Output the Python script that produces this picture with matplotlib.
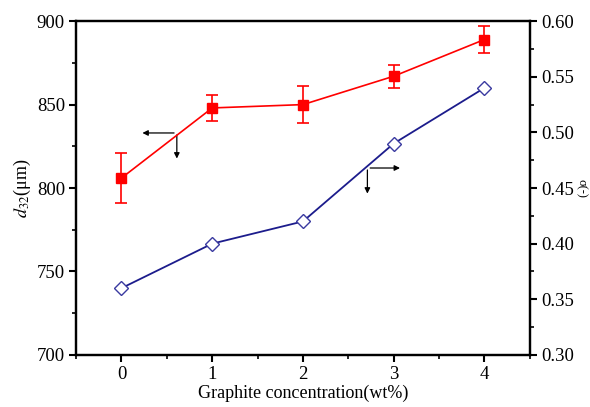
import matplotlib.pyplot as plt
import numpy as np
from matplotlib.ticker import MultipleLocator

plt.rcParams['font.family'] = ['Liberation Serif', 'DejaVu Serif']
plt.rcParams['mathtext.fontset'] = 'stix'

# graphite concentration (wt%)
conc = np.array([0, 1, 2, 3, 4])
# Sauter mean diameter d32 (um) with error bars
d32 = np.array([806, 848, 850, 867, 889])
d32_err = np.array([15, 8, 11, 7, 8])
# span sigma (-)
sigma = np.array([0.36, 0.40, 0.42, 0.49, 0.54])

fig = plt.figure(figsize=(5.9, 4.07), dpi=100)
ax = fig.add_axes([0.129, 0.128, 0.769, 0.82])
ax2 = ax.twinx()

ax.errorbar(conc, d32, yerr=d32_err, color="#ff0000", marker="s", ms=7,
            lw=1.2, capsize=4, elinewidth=1.2, capthick=1.2, zorder=3)
ax2.plot(conc, sigma, color="#1c1c8c", marker="D", ms=7.5, mfc="white",
         mec="#3a3aa0", mew=1.0, lw=1.3)

ax.set_xlim(-0.5, 4.5)
ax.set_ylim(700, 900)
ax2.set_ylim(0.30, 0.60)
ax.set_xticks(conc)
ax.xaxis.set_minor_locator(MultipleLocator(0.5))
ax.yaxis.set_major_locator(MultipleLocator(50))
ax.yaxis.set_minor_locator(MultipleLocator(25))
ax2.yaxis.set_major_locator(MultipleLocator(0.05))
ax2.yaxis.set_minor_locator(MultipleLocator(0.025))
ax2.yaxis.set_major_formatter(plt.FormatStrFormatter('%.2f'))

for a in (ax, ax2):
    for s in a.spines.values():
        s.set_linewidth(1.6)
    a.tick_params(which='major', direction='out', length=5, width=1.5,
                  labelsize=13.5, pad=3)
    a.tick_params(which='minor', direction='out', length=3, width=1.2)

ax.set_xlabel("Graphite concentration(wt%)", fontsize=13, labelpad=1)
ax.set_ylabel(r"$d_{32}$(μm)", fontsize=13, labelpad=3)
ax2.set_ylabel("σ(-)", fontsize=9, rotation=270, labelpad=10)

# direction arrows pointing to the relevant axis
arrow = dict(arrowstyle="-|>", color="black", lw=0.9, mutation_scale=8)
ax.annotate("", xy=(0.2, 833), xytext=(0.61, 833), arrowprops=arrow)
ax.annotate("", xy=(0.61, 816), xytext=(0.61, 833.5), arrowprops=arrow)
ax.annotate("", xy=(3.1, 812), xytext=(2.71, 812), arrowprops=arrow)
ax.annotate("", xy=(2.71, 795), xytext=(2.71, 812.5), arrowprops=arrow)

fig.savefig("out.png", dpi=100)
